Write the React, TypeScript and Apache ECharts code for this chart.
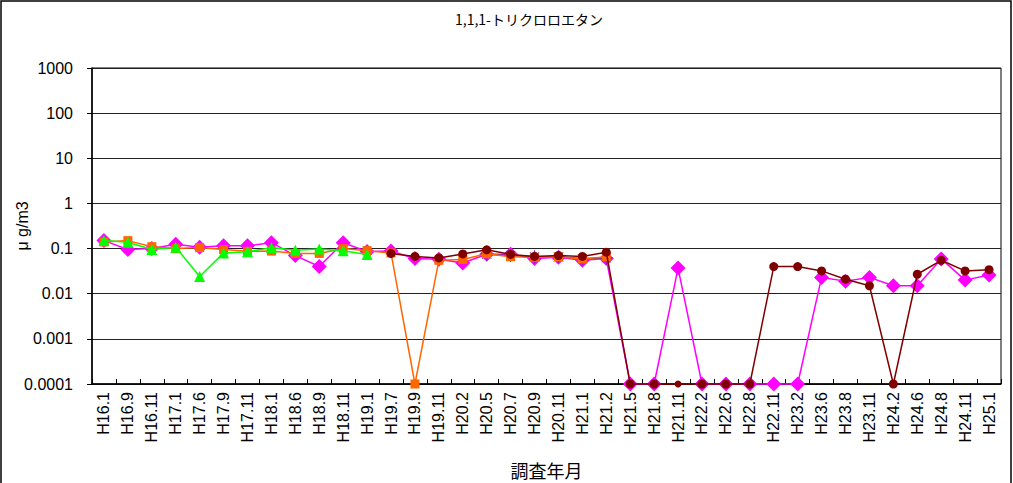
import React, { useEffect, useRef } from "react";
import * as echarts from "echarts";

const categories = [
  "H16.1", "H16.9", "H16.11", "H17.1", "H17.6", "H17.9", "H17.11", "H18.1", "H18.6", "H18.9",
  "H18.11", "H19.1", "H19.7", "H19.9", "H19.11", "H20.2", "H20.5", "H20.7", "H20.9", "H20.11",
  "H21.1", "H21.2", "H21.5", "H21.8", "H21.11", "H22.2", "H22.6", "H22.8", "H22.11", "H23.2",
  "H23.6", "H23.8", "H23.11", "H24.2", "H24.6", "H24.8", "H24.11", "H25.1",
];

const magentaValues = [
  0.15, 0.095, 0.1, 0.125, 0.107, 0.115, 0.115, 0.135, 0.07, 0.04,
  0.135, 0.086, 0.088, 0.06, 0.058, 0.048, 0.075, 0.075, 0.06, 0.064,
  0.055, 0.06, 0.0001, 0.0001, 0.037, 0.0001, 0.0001, 0.0001, 0.0001, 0.0001,
  0.023, 0.019, 0.023, 0.015, 0.015, 0.059, 0.02, 0.026,
];

const starValues = [
  null, null, null, null, null, null, null, null, null, null,
  null, null, null, null, null, null, 0.075, 0.07, 0.066, 0.065,
  0.06, 0.062, null, null, null, null, null, null, null, null,
  null, null, null, null, null, null, null, null,
];

const orangeValues = [
  0.14, 0.15, 0.11, 0.1, 0.105, 0.095, 0.087, 0.088, 0.078, 0.078,
  0.1, 0.09, 0.08, 0.0001, 0.055, 0.057, 0.077, 0.066, 0.064, 0.066,
  0.059, 0.066, null, null, null, null, null, null, null, null,
  null, null, null, null, null, null, null, null,
];

const greenValues = [
  0.15, 0.138, 0.095, 0.107, 0.024, 0.08, 0.085, 0.105, 0.092, 0.098,
  0.09, 0.074, null, null, null, null, null, null, null, null,
  null, null, null, null, null, null, null, null, null, null,
  null, null, null, null, null, null, null, null,
];

const maroonValues = [
  null, null, null, null, null, null, null, null, null, null,
  null, null, 0.078, 0.067, 0.062, 0.076, 0.094, 0.074, 0.067, 0.07,
  0.067, 0.083, 0.0001, 0.0001, 0.0001, 0.0001, 0.0001, 0.0001, 0.04, 0.04,
  0.032, 0.021, 0.015, 0.0001, 0.027, 0.055, 0.032, 0.034,
];

const yTickLabels = ["0.0001", "0.001", "0.01", "0.1", "1", "10", "100", "1000"];

export default function App() {
  const ref = useRef<HTMLDivElement>(null);

  useEffect(() => {
    if (!ref.current) return;
    const chart = echarts.init(ref.current, null, { renderer: "svg" });
    const lineStyle = (c: string, w = 1.5) => ({ color: c, width: w });
    const font = "Liberation Sans, Arial, sans-serif";
    chart.setOption({
      animation: false,
      backgroundColor: "#fff",
      textStyle: { fontFamily: font },
      graphic: [
        {
          type: "rect",
          shape: { x: 1, y: 1, width: 1010, height: 495 },
          style: { fill: "none", stroke: "#000", lineWidth: 1.5 },
          silent: true,
          z: 100,
        },
        {
          type: "text",
          left: 455,
          top: 12,
          style: {
            text: "1,1,1-トリクロロエタン",
            font: '14px "Noto Sans CJK JP"',
            fill: "#000",
          },
        },
      ],
      grid: {
        left: 92,
        right: 12,
        top: 68,
        bottom: 99,
        show: true,
        borderColor: "#000",
        borderWidth: 1,
        outerBoundsMode: "none",
        containLabel: false,
      },
      xAxis: {
        type: "category",
        data: categories,
        boundaryGap: true,
        name: "調査年月",
        nameLocation: "middle",
        nameGap: 77,
        nameMoveOverlap: false,
        nameTextStyle: { fontSize: 18, fontFamily: "Noto Sans CJK JP", color: "#000" },
        axisLine: { lineStyle: { color: "#000", width: 1.5 } },
        axisTick: { show: true, inside: true, length: 5, lineStyle: { color: "#000" } },
        axisLabel: {
          rotate: 90,
          interval: 0,
          fontSize: 16,
          color: "#000",
          margin: 8,
          fontFamily: font,
        },
        splitLine: { show: false },
      },
      yAxis: {
        type: "log",
        logBase: 10,
        min: 0.0001,
        max: 1000,
        name: "μ g/m3",
        nameLocation: "middle",
        nameGap: 62,
        nameMoveOverlap: false,
        nameRotate: 90,
        nameTextStyle: { fontSize: 16, color: "#000", fontFamily: font },
        axisLine: { show: true, lineStyle: { color: "#000", width: 1.5 } },
        axisTick: { show: true, inside: false, length: 5, lineStyle: { color: "#000" } },
        axisLabel: {
          fontSize: 16,
          color: "#000",
          margin: 19,
          fontFamily: font,
          formatter: (v: number) => {
            const e = Math.round(Math.log10(v));
            return yTickLabels[e + 4] ?? String(v);
          },
        },
        splitLine: { show: true, lineStyle: { color: "#222", width: 1.2 } },
      },
      series: [
        {
          type: "line",
          data: magentaValues,
          symbol: "diamond",
          symbolSize: 15,
          clip: false,
          itemStyle: { color: "#FF00FF" },
          lineStyle: lineStyle("#FF00FF", 1.5),
          z: 2,
        },
        {
          type: "line",
          data: starValues,
          symbol: "path://M5,0L5,10M0,5L10,5M1.5,1.5L8.5,8.5M8.5,1.5L1.5,8.5",
          symbolSize: 13,
          clip: false,
          itemStyle: { color: "none", borderColor: "#7030A0", borderWidth: 1 },
          lineStyle: lineStyle("#7030A0", 1.5),
          z: 3,
        },
        {
          type: "line",
          data: orangeValues,
          symbol: "rect",
          symbolSize: 9,
          clip: false,
          itemStyle: { color: "#FF6600" },
          lineStyle: lineStyle("#FF6600", 1.5),
          z: 4,
        },
        {
          type: "line",
          data: greenValues,
          symbol: "triangle",
          symbolSize: 11,
          clip: false,
          itemStyle: { color: "#00FF00" },
          lineStyle: lineStyle("#00FF00", 1.5),
          z: 5,
        },
        {
          type: "line",
          data: maroonValues.map((v, i) =>
            categories[i] === "H21.11" ? { value: v, symbolSize: 7 } : v
          ),
          symbol: "circle",
          symbolSize: 9,
          clip: false,
          itemStyle: { color: "#800000" },
          lineStyle: lineStyle("#800000", 1.5),
          z: 6,
        },
      ],
    });
    return () => chart.dispose();
  }, []);

  return (
    <div
      ref={ref}
      style={{ position: "fixed", left: 0, top: 0, width: 1013, height: 483, background: "#fff" }}
    />
  );
}
